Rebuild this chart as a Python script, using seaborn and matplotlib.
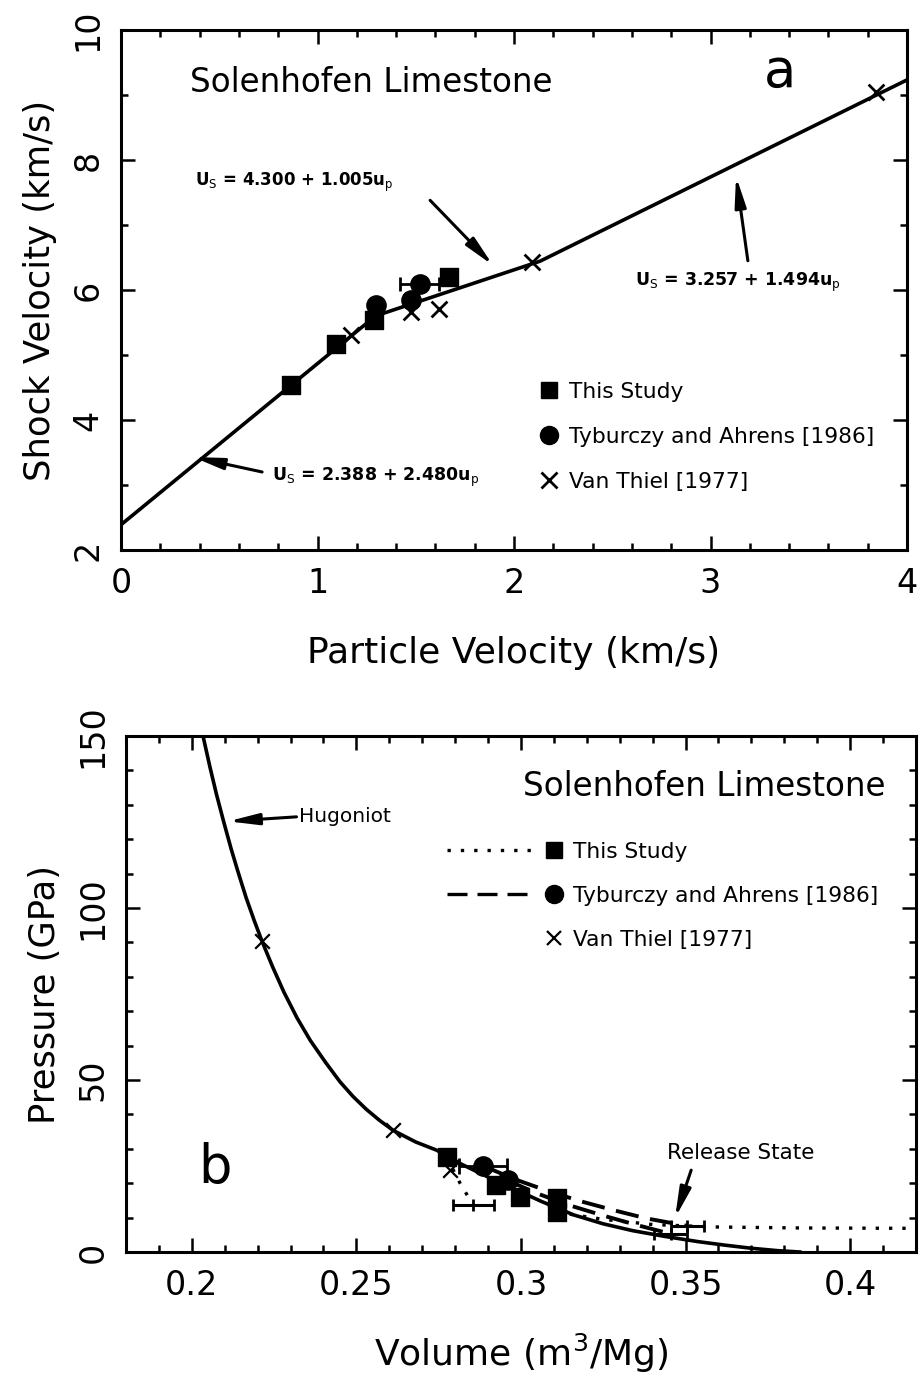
import matplotlib
matplotlib.use("Agg")
import matplotlib.pyplot as plt
import seaborn as sns
import numpy as np
from matplotlib.lines import Line2D
from matplotlib.legend_handler import HandlerBase
from matplotlib.ticker import MultipleLocator, FuncFormatter

# ---------------- data: panel a ----------------
fit_up = [0.0, 1.296, 2.133, 4.0]
fit_us = [2.388, 5.602, 6.444, 9.233]

this_up = [0.864, 1.094, 1.29, 1.67]
this_us = [4.54, 5.17, 5.54, 6.20]

ty_up = [1.30, 1.475, 1.52]
ty_us = [5.77, 5.85, 6.10]
ty_up_err = [0.0, 0.0, 0.10]

vt_up = [1.17, 1.475, 1.62, 2.09, 3.84]
vt_us = [5.31, 5.66, 5.71, 6.43, 9.05]

# ---------------- data: panel b ----------------
hug_V = [0.2034, 0.2055, 0.2075, 0.2097, 0.2120, 0.2142, 0.2165, 0.2189, 0.2213,
         0.2245, 0.2280, 0.2320, 0.2360, 0.2405, 0.2450, 0.2490, 0.2530, 0.2570,
         0.2611, 0.2680, 0.2744, 0.2820, 0.2900, 0.2980, 0.3060, 0.3160, 0.3250,
         0.3340, 0.3440, 0.3540, 0.3620, 0.3700, 0.3780, 0.3850]
hug_P = [150, 141, 133, 125, 117, 110, 103, 96.5, 90.4,
         83.0, 75.5, 68.0, 61.5, 55.3, 49.5, 45.2, 41.5, 38.3,
         35.4, 32.0, 29.6, 25.5, 21.8, 18.3, 14.8, 10.8, 8.2,
         6.2, 4.5, 3.0, 2.0, 1.1, 0.4, 0.0]

b_this_V = [0.2774, 0.2925, 0.2997, 0.3108, 0.3108]
b_this_P = [27.6, 19.5, 16.0, 15.6, 11.6]

b_ty_V = [0.2886, 0.2960]
b_ty_P = [25.0, 20.8]
b_ty_Verr = [0.0073, 0.0]

b_vt_V = [0.2213, 0.2611, 0.2784]
b_vt_P = [90.4, 35.4, 23.8]

rel_V = [0.2855, 0.3505, 0.3455]
rel_P = [13.6, 7.6, 5.3]
rel_Verr = [0.0063, 0.005, 0.005]

dotA_V = [0.2774, 0.2815, 0.2855]
dotA_P = [27.6, 20.0, 13.6]
dotB_V = [0.3108, 0.325, 0.340, 0.358, 0.385, 0.418]
dotB_P = [11.6, 9.5, 8.0, 7.3, 7.0, 6.9]

dashA_V = [0.2886, 0.298, 0.308, 0.318, 0.328, 0.338, 0.3505]
dashA_P = [25.0, 21.2, 17.8, 14.8, 12.2, 9.8, 7.6]
dashB_V = [0.2960, 0.305, 0.315, 0.325, 0.335, 0.3455]
dashB_P = [20.8, 17.0, 13.5, 10.6, 7.9, 5.3]

legend_labels = ["This Study", "Tyburczy and Ahrens [1986]", "Van Thiel [1977]"]

# ---------------- style ----------------
sns.set_theme(style="ticks")
plt.rcParams['font.family'] = ['DejaVu Sans']
plt.rcParams['axes.linewidth'] = 2.2
plt.rcParams['mathtext.default'] = 'regular'
for key in ['text.color', 'axes.labelcolor', 'xtick.color', 'ytick.color',
            'axes.edgecolor']:
    plt.rcParams[key] = 'black'

K = 'black'
fig = plt.figure(figsize=(9.23, 13.78), dpi=100)
ax1 = fig.add_axes([0.1311, 0.6009, 0.8516, 0.3773])
ax2 = fig.add_axes([0.1365, 0.0914, 0.8559, 0.3745])


def style_axes(ax):
    for s in ax.spines.values():
        s.set_color(K)
        s.set_linewidth(2.2)
    ax.tick_params(which='both', direction='in', top=True, right=True,
                   colors=K, width=1.8, labelsize=24, pad=12)
    ax.tick_params(which='major', length=10)
    ax.tick_params(which='minor', length=5)
    for lab in ax.get_yticklabels():
        lab.set_rotation(90)
        lab.set_va('center')


class LineThenMarker(HandlerBase):
    def create_artists(self, legend, orig_handle, xdescent, ydescent, width,
                       height, fontsize, trans):
        ls, marker, ms, mew = orig_handle
        arts = []
        y = height / 2 - ydescent
        if ls is not None:
            ln = Line2D([-xdescent, -xdescent + width * 0.84], [y, y], ls=ls,
                        color=K, lw=2.4)
            ln.set_transform(trans)
            arts.append(ln)
        mk = Line2D([-xdescent + width], [y], marker=marker, ls='none',
                    color=K, ms=ms, mew=mew)
        mk.set_transform(trans)
        arts.append(mk)
        return arts


# ---------------- panel a ----------------
sns.lineplot(x=fit_up, y=fit_us, ax=ax1, color=K, lw=2.6, sort=False)
ax1.errorbar(ty_up, ty_us, xerr=ty_up_err, fmt='none', ecolor=K, elinewidth=2,
             capsize=5, capthick=2)
sns.scatterplot(x=this_up, y=this_us, ax=ax1, marker='s', s=150, color=K,
                edgecolor=K, zorder=5)
sns.scatterplot(x=ty_up, y=ty_us, ax=ax1, marker='o', s=190, color=K,
                edgecolor=K, zorder=5)
sns.scatterplot(x=vt_up, y=vt_us, ax=ax1, marker='x', s=130, color=K,
                linewidth=2, zorder=5)

ax1.set_xlim(0, 4)
ax1.set_ylim(2, 10)
ax1.xaxis.set_major_locator(MultipleLocator(1))
ax1.xaxis.set_minor_locator(MultipleLocator(0.2))
ax1.yaxis.set_major_locator(MultipleLocator(2))
ax1.yaxis.set_minor_locator(MultipleLocator(1))
ax1.set_xlabel("Particle Velocity (km/s)", fontsize=26, labelpad=26, color=K)
ax1.set_ylabel("Shock Velocity (km/s)", fontsize=25.5, labelpad=10, color=K)
style_axes(ax1)

ax1.text(0.351, 9.2, "Solenhofen Limestone", fontsize=23.5, va='center', ha='left', color=K)
ax1.text(3.354, 9.35, "a", fontsize=38, va='center', ha='center', color=K)

arrow_kw = dict(arrowstyle="-|>,head_length=1.5,head_width=0.28", color=K, lw=2.2,
                shrinkA=0, shrinkB=0)
ax1.annotate("", xy=(1.893, 6.38), xytext=(1.573, 7.38), arrowprops=arrow_kw)
ax1.text(0.377, 7.66, r"U$_\mathrm{S}$ = 4.300 + 1.005u$_\mathrm{p}$", fontsize=12,
         fontweight='bold', va='center', ha='left', color=K)
ax1.annotate("", xy=(3.13, 7.75), xytext=(3.19, 6.45), arrowprops=arrow_kw)
ax1.text(2.616, 6.12, r"U$_\mathrm{S}$ = 3.257 + 1.494u$_\mathrm{p}$", fontsize=12.5,
         fontweight='bold', va='center', ha='left', color=K)
ax1.annotate("", xy=(0.366, 3.43), xytext=(0.718, 3.20), arrowprops=arrow_kw)
ax1.text(0.768, 3.12, r"U$_\mathrm{S}$ = 2.388 + 2.480u$_\mathrm{p}$", fontsize=12.5,
         fontweight='bold', va='center', ha='left', color=K)

h_a = [(None, 's', 12, 1), (None, 'o', 13, 1), (None, 'x', 11, 2)]
ax1.legend(h_a, legend_labels, handler_map={tuple: LineThenMarker()},
           loc='center left', bbox_to_anchor=(2.08, 3.74),
           bbox_transform=ax1.transData, frameon=False, fontsize=15.7,
           handlelength=0.9, handletextpad=0.9, labelspacing=1.15,
           borderpad=0, borderaxespad=0, labelcolor=K)

# ---------------- panel b ----------------
sns.lineplot(x=hug_V, y=hug_P, ax=ax2, color=K, lw=2.6, sort=False)
sns.lineplot(x=dotA_V, y=dotA_P, ax=ax2, color=K, lw=2.4, ls=(0, (1, 3)), sort=False)
sns.lineplot(x=dotB_V, y=dotB_P, ax=ax2, color=K, lw=2.4, ls=(0, (1, 3)), sort=False)
sns.lineplot(x=dashA_V, y=dashA_P, ax=ax2, color=K, lw=2.8, ls=(0, (6, 3)), sort=False)
sns.lineplot(x=dashB_V, y=dashB_P, ax=ax2, color=K, lw=2.8, ls=(0, (6, 3)), sort=False)
ax2.errorbar(rel_V, rel_P, xerr=rel_Verr, fmt='+', color=K, ms=8, mew=2,
             elinewidth=2.2, capsize=4, capthick=2)
ax2.errorbar(b_ty_V, b_ty_P, xerr=b_ty_Verr, fmt='none', ecolor=K, elinewidth=2,
             capsize=6, capthick=2)
sns.scatterplot(x=b_this_V, y=b_this_P, ax=ax2, marker='s', s=150, color=K,
                edgecolor=K, zorder=5)
sns.scatterplot(x=b_ty_V, y=b_ty_P, ax=ax2, marker='o', s=190, color=K,
                edgecolor=K, zorder=5)
sns.scatterplot(x=b_vt_V, y=b_vt_P, ax=ax2, marker='x', s=110, color=K,
                linewidth=1.6, zorder=5)

ax2.set_xlim(0.18, 0.42)
ax2.set_ylim(0, 150)
ax2.xaxis.set_major_locator(MultipleLocator(0.05))
ax2.xaxis.set_minor_locator(MultipleLocator(0.01))
ax2.yaxis.set_major_locator(MultipleLocator(50))
ax2.yaxis.set_minor_locator(MultipleLocator(10))
ax2.xaxis.set_major_formatter(FuncFormatter(lambda v, p: f"{v:g}"))
ax2.set_xlabel(r"Volume (m$^3$/Mg)", fontsize=26, labelpad=22, color=K)
ax2.set_ylabel("Pressure (GPa)", fontsize=25.5, labelpad=10, color=K)
style_axes(ax2)

ax2.text(0.4106, 135.4, "Solenhofen Limestone", fontsize=23.5, va='center', ha='right', color=K)
ax2.text(0.207, 24.3, "b", fontsize=38, va='center', ha='center', color=K)

ax2.annotate("", xy=(0.211, 125.2), xytext=(0.2318, 126.5), arrowprops=arrow_kw)
ax2.text(0.2325, 126.5, "Hugoniot", fontsize=14.5, va='center', ha='left', color=K)
ax2.annotate("", xy=(0.3468, 9.9), xytext=(0.3517, 23.8), arrowprops=arrow_kw)
ax2.text(0.3666, 28.8, "Release State", fontsize=15.5, va='center', ha='center', color=K)

h_b = [((0, (1, 3)), 's', 12, 1), ((0, (6, 3)), 'o', 13, 1), (None, 'x', 10, 1.6)]
ax2.legend(h_b, legend_labels, handler_map={tuple: LineThenMarker()},
           loc='center left', bbox_to_anchor=(0.2775, 103.5),
           bbox_transform=ax2.transData, frameon=False, fontsize=15.7,
           handlelength=4.9, handletextpad=0.9, labelspacing=1.1,
           borderpad=0, borderaxespad=0, labelcolor=K)

fig.savefig("out.png", dpi=100)
